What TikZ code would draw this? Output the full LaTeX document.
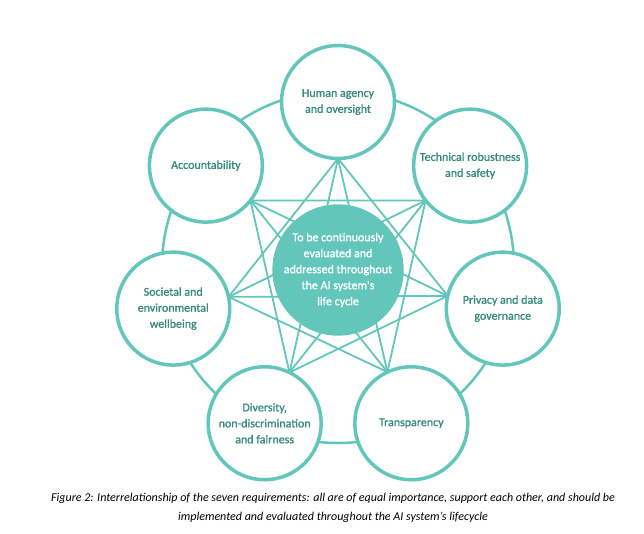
\documentclass[tikz,border=0pt]{standalone}
\usepackage{fontspec}
\setmainfont{Carlito}
\newfontfamily\labelfont[FakeBold=1.2]{Carlito}
\usepackage{tikz}
\definecolor{ringteal}{RGB}{98,198,186}
\definecolor{textteal}{RGB}{55,140,125}

\begin{document}
\begin{tikzpicture}[x=1pt,y=1pt,
    req/.style={circle, draw=ringteal, line width=3.5pt, fill=white,
        minimum size=113pt, inner sep=0pt, outer sep=0pt, align=center,
        text=textteal, font=\labelfont\fontsize{12}{16}\selectfont},
    hub/.style={circle, fill=ringteal, minimum size=114pt, inner sep=0pt,
        align=center, text=white, font=\labelfont\fontsize{12}{16}\selectfont},
    link/.style={draw=ringteal, line width=1.8pt}]
        \useasboundingbox (-338,-262) rectangle (306,271);

        % Draw the ring joining the requirements
        \draw[ringteal, line width=2.5pt] (0,4) circle (176);

        % Place the seven requirements
        \node[req] (c0) at (90:169) {Human agency\\and oversight};
        \node[req] (c1) at (90-360/7:169) {Technical robustness\\and safety};
        \node[req] (c2) at (90-2*360/7:169) {Privacy and data\\governance};
        \node[req] (c3) at (90-3*360/7:169) {Transparency};
        \node[req] (c4) at (90-4*360/7:169) {Diversity,\\non-discrimination\\and fairness};
        \node[req] (c5) at (90-5*360/7:169) {Societal and\\environmental\\wellbeing};
        \node[req] (c6) at (90-6*360/7:169) {Accountability};

        % Draw the links between the requirements
        \foreach \i in {0,...,6} {
            \foreach \s in {2,3} {
                \pgfmathtruncatemacro{\j}{mod(\i+\s,7)}
                \pgfmathtruncatemacro{\a}{270-\i*360/7}
                \pgfmathtruncatemacro{\b}{270-\j*360/7}
                \draw[link] (c\i.\a) -- (c\j.\b);
            }
        }

        % Mark the centre
        \node[hub] (hub) at (0,1) {To be continuously\\evaluated and\\addressed throughout\\the AI system's\\life cycle};

        % Caption
        \node[font=\fontsize{12}{19}\selectfont\itshape, align=center] (cap) at (-5,-236.5)
            {Figure 2: Interrelationship of the seven requirements: all are of equal importance, support each other, and should be\\implemented and evaluated throughout the AI system's lifecycle};
    \end{tikzpicture}
\end{document}
